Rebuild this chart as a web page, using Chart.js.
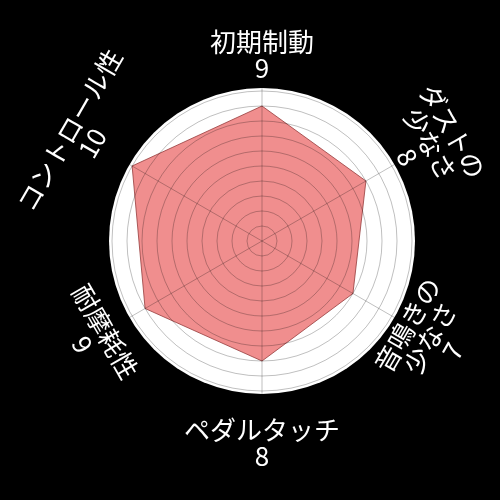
<!DOCTYPE html>
<html>
<head>
<meta charset="utf-8">
<script src="https://cdn.jsdelivr.net/npm/chart.js@4/dist/chart.umd.min.js"></script>
<style>
    html, body { margin: 0; padding: 0; background: #000; }
    canvas { display: block; }
</style>
</head>
<body>
<canvas id="radar-chart" width="500" height="500"></canvas>
<script>
let categories = ['初期制動', 'ダストの少なさ', '音鳴きの少なさ', 'ペダルタッチ', '耐摩耗性', 'コントロール性']
let categoryLines = [['初期制動'], ['ダストの', '少なさ'], ['音鳴きの', '少なさ'], ['ペダルタッチ'], ['耐摩耗性'], ['コントロール性']]
let scores = [9, 8, 7, 8, 9, 10]
let tickStep = 1
let scaleMax = 10.2

// white disk behind the grid
let diskPlugin = {
    id: 'disk',
    beforeDraw(chart) {
        let r = chart.scales.r
        let ctx = chart.ctx
        ctx.save()
        ctx.fillStyle = '#ffffff'
        ctx.beginPath()
        ctx.arc(r.xCenter, r.yCenter, r.drawingArea, 0, Math.PI * 2)
        ctx.fill()
        ctx.restore()
    }
}

// labels turned along the circle, value under the name
let labelPlugin = {
    id: 'turnedLabels',
    afterDraw(chart) {
        let r = chart.scales.r
        let ctx = chart.ctx
        let lh = 26
        ctx.save()
        ctx.fillStyle = '#ffffff'
        ctx.font = '26px "Noto Sans CJK JP"'
        ctx.textAlign = 'center'
        ctx.textBaseline = 'middle'
        categoryLines.forEach((lines, i) => {
            let text = lines.concat(String(scores[i]))
            let rot = r.getIndexAngle(i) % (Math.PI * 2)
            if (rot > Math.PI / 2 + 0.01 && rot < Math.PI * 1.5 - 0.01) rot -= Math.PI
            let flat = Math.abs(rot) < 0.01
            let longest = Math.max(...lines.map(l => l.length))
            // long turned names sit a bit further out
            let dist = r.drawingArea + 41 + (flat ? 0 : Math.max(0, longest - 4) * 5)
            let pos = r.getPointPosition(i, dist)
            ctx.save()
            ctx.translate(pos.x, pos.y + (flat ? 8 : 0))
            ctx.rotate(rot)
            text.forEach((t, j) => {
                ctx.fillText(t, 0, (j - (text.length - 1) / 2) * lh)
            })
            ctx.restore()
        })
        ctx.restore()
    }
}

new Chart(document.getElementById('radar-chart'), {
    type: 'radar',
    data: {
        labels: categories,
        datasets: [{
            data: scores,
            backgroundColor: '#f08e8e',
            borderColor: 'rgba(150, 60, 60, 0.8)',
            borderWidth: 1,
            pointRadius: 0,
            fill: true
        }]
    },
    options: {
        responsive: false,
        animation: false,
        layout: { padding: { left: 109, right: 85, top: 88, bottom: 106 } },
        plugins: {
            legend: { display: false },
            tooltip: { enabled: false }
        },
        scales: {
            r: {
                min: 0,
                max: scaleMax,
                ticks: { display: false, stepSize: tickStep, includeBounds: false, z: 1 },
                grid: { circular: true, color: 'rgba(0, 0, 0, 0.25)', lineWidth: 1, z: 1 },
                angleLines: { color: 'rgba(0, 0, 0, 0.25)', lineWidth: 1 },
                pointLabels: { display: false }
            }
        }
    },
    plugins: [diskPlugin, labelPlugin]
})
</script>
</body>
</html>
